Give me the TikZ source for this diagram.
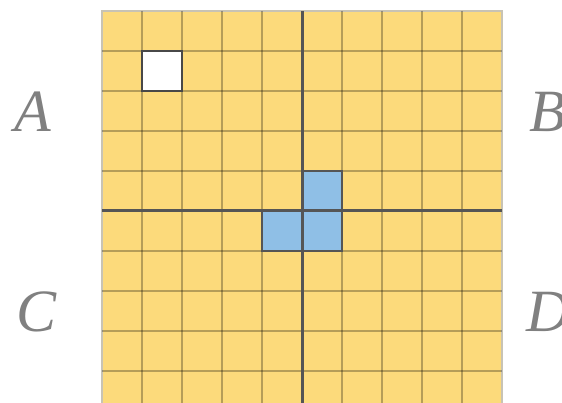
\documentclass[tikz,border=0pt]{standalone}
\usepackage{fontspec}
\setmainfont{Liberation Serif}
\definecolor{cellyellow}{RGB}{252,218,123}
\definecolor{cellblue}{RGB}{143,191,230}
\definecolor{axisgray}{RGB}{85,85,85}
\definecolor{labelgray}{RGB}{128,128,128}
\definecolor{rimgray}{RGB}{200,195,180}
\tikzset{
  gridline/.style={draw=black, draw opacity=0.28, line width=1.5pt},
  axisline/.style={draw=axisgray, line width=3pt},
  bluecell/.style={fill=cellblue, draw=axisgray, line width=2pt},
  whitecell/.style={fill=white, draw=axisgray!85!black, line width=2pt},
  quadlabel/.style={text=labelgray, font=\fontsize{60}{60}\selectfont\itshape, inner sep=0pt}
}
\begin{document}
\begin{tikzpicture}[x=1pt,y=-1pt]
\useasboundingbox (0,0) rectangle (562,403);
\begin{scope}
\clip (0,0) rectangle (562,403);
\fill[cellyellow] (102,11) rectangle (502,411);
\draw[rimgray, line width=1.5pt] (102,411) -- (102,11) -- (502,11) -- (502,411);
\foreach \i in {1,...,9} {
  \draw[gridline] (102+40*\i,11) -- (102+40*\i,411);
  \draw[gridline] (102,11+40*\i) -- (502,11+40*\i);
}
\draw[whitecell] (142,51) rectangle (182,91);
\draw[bluecell] (302,171) rectangle (342,211);
\draw[bluecell] (262,211) rectangle (302,251);
\draw[bluecell] (302,211) rectangle (342,251);
\draw[axisline] (302,11) -- (302,411);
\draw[axisline] (102,211) -- (502,211);
\node[quadlabel] (lA) at (33,112) {A};
\node[quadlabel] (lB) at (548,112) {B};
\node[quadlabel] (lC) at (37,312) {C};
\node[quadlabel] (lD) at (548,312) {D};
\end{scope}
\end{tikzpicture}
\end{document}
